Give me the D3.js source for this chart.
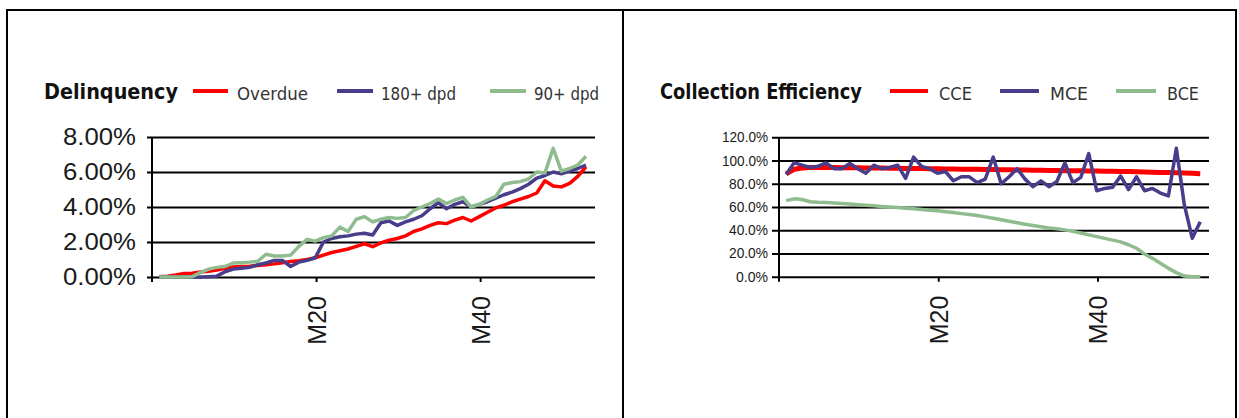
<!DOCTYPE html>
<html>
<head>
<meta charset="utf-8">
<script src="https://cdn.jsdelivr.net/npm/d3@7"></script>
<style>
  body { margin: 0; background: #fff; }
  svg { display: block; }
</style>
</head>
<body>
<div id="graph"></div>
<script>
// months M1..M53
var months = d3.range(1, 54);
var tickMonths = [20, 40];

// Delinquency, %
var overdue = [0.02, 0.05, 0.12, 0.2, 0.22, 0.28, 0.33, 0.4, 0.5, 0.57, 0.6, 0.62, 0.66, 0.7, 0.75, 0.82, 0.88, 0.93, 1.0, 1.1,
  1.25, 1.4, 1.5, 1.6, 1.75, 1.9, 1.73, 1.95, 2.1, 2.2, 2.35, 2.6, 2.75, 2.95, 3.1, 3.05, 3.25, 3.4, 3.2, 3.45,
  3.7, 3.95, 4.1, 4.3, 4.45, 4.6, 4.8, 5.5, 5.2, 5.15, 5.35, 5.75, 6.3];
var dpd180 = [0, 0, 0, 0, 0, 0, 0.02, 0.05, 0.3, 0.45, 0.5, 0.55, 0.7, 0.8, 0.95, 0.95, 0.6, 0.85, 0.95, 1.1,
  2.0, 2.2, 2.3, 2.35, 2.45, 2.5, 2.4, 3.1, 3.2, 2.95, 3.15, 3.3, 3.5, 3.9, 4.25, 3.9, 4.15, 4.3, 4.0, 4.15,
  4.3, 4.5, 4.7, 4.85, 5.05, 5.3, 5.65, 5.8, 6.0, 5.9, 6.05, 6.2, 6.4];
var dpd90 = [0, 0, 0, 0, 0.02, 0.25, 0.45, 0.55, 0.6, 0.8, 0.82, 0.85, 0.9, 1.3, 1.2, 1.2, 1.25, 1.75, 2.15, 2.05,
  2.25, 2.35, 2.85, 2.6, 3.3, 3.45, 3.15, 3.3, 3.4, 3.35, 3.4, 3.8, 4.0, 4.2, 4.45, 4.2, 4.4, 4.55, 4.0, 4.15,
  4.4, 4.6, 5.3, 5.4, 5.45, 5.6, 6.0, 5.95, 7.35, 6.05, 6.2, 6.4, 6.9];

// Collection efficiency, %
var cce = [88.5, 92.5, 93.5, 94, 94, 94, 93.9, 93.8, 93.8, 93.7, 93.6, 93.5, 93.5, 93.4, 93.3, 93.2, 93.2, 93.1, 93, 92.9,
  92.8, 92.7, 92.6, 92.5, 92.4, 92.3, 92.2, 92.1, 92, 91.9, 91.8, 91.7, 91.6, 91.5, 91.4, 91.3, 91.2, 91.1, 91, 90.9,
  90.8, 90.7, 90.6, 90.5, 90.4, 90.2, 90, 89.8, 89.6, 89.4, 89.2, 89, 88.6];
var mce = [88, 98, 96, 94, 95, 98, 93, 93, 97.5, 93, 89, 96, 93, 94, 96, 84.7, 103, 95, 93, 89,
  90.5, 82.6, 86, 86, 81, 84, 103, 80, 86, 93, 84, 77.5, 82.5, 77.5, 82, 98, 81, 85.5, 106, 74,
  76, 77, 86.7, 75, 86, 74, 76, 72, 69.5, 110.5, 62, 33, 47.3];
var bce = [65.5, 67, 66.5, 64.5, 64, 63.8, 63.5, 63, 62.5, 62, 61.5, 61, 60.5, 60, 59.5, 59, 58.5, 57.8, 57.2, 56.8,
  56, 55.2, 54.3, 53.5, 52.6, 51.5, 50.3, 49.1, 47.8, 46.5, 45.2, 44, 43, 42, 41.2, 40.3, 39, 37.6, 36, 34.5,
  33, 31.5, 30, 27.5, 24.5, 19.5, 15.8, 11.5, 7.2, 3.5, 0.5, 0, 0];

var delinqTicks = [0, 2, 4, 6, 8];
var effTicks = [0, 20, 40, 60, 80, 100, 120];

var red = "#FF0000", blue = "#483D8B", green = "#8FBC8F";

var svg = d3.select("#graph").append("svg")
  .attr("width", 1239)
  .attr("height", 418);

// outer frame
svg.append("path")
  .attr("d", "M7,418V10H1236V418M623,10V418")
  .attr("fill", "none")
  .attr("stroke", "#000")
  .attr("stroke-width", 2);

function panel(o) {
  var g = svg.append("g");
  var x = d3.scaleLinear().domain([0, 54]).range([o.x0, o.x1]);
  var y = d3.scaleLinear().domain(o.yDomain).range([o.y0, o.y1]);

  // grid + y labels
  var ya = g.append("g")
    .attr("transform", "translate(" + o.x0 + ",0)")
    .call(d3.axisLeft(y).tickValues(o.yTicks).tickFormat(o.fmt)
      .tickSizeInner(-(o.x1 - o.x0)).tickSizeOuter(0).tickPadding(o.pad));
  ya.select(".domain").remove();
  ya.selectAll("line").attr("x1", -o.tickLen).attr("stroke", "#000").attr("stroke-width", 2);
  ya.selectAll("text")
    .attr("font-family", "Liberation Sans, Arial, sans-serif")
    .attr("font-size", o.yFont)
    .attr("fill", "#1a1a1a")
    .attr("textLength", function(d) { return o.yLen[String(d).length] || null; })
    .attr("lengthAdjust", "spacingAndGlyphs");

  // y axis line
  g.append("line")
    .attr("x1", o.x0).attr("x2", o.x0)
    .attr("y1", o.y1).attr("y2", o.y0 + 5)
    .attr("stroke", "#000").attr("stroke-width", 2);

  // x axis
  var xa = g.append("g")
    .attr("transform", "translate(0," + o.y0 + ")")
    .call(d3.axisBottom(x).tickValues(tickMonths).tickFormat(function(d) { return "M" + d; })
      .tickSize(5).tickSizeOuter(0).tickPadding(0));
  xa.select(".domain").remove();
  xa.selectAll("line").attr("stroke", "#000").attr("stroke-width", 2);
  xa.selectAll("text")
    .attr("transform", "rotate(-90)")
    .attr("text-anchor", "end")
    .attr("x", -19).attr("y", 0).attr("dy", "0.36em")
    .attr("font-family", "Liberation Sans, Arial, sans-serif")
    .attr("font-size", 25)
    .attr("fill", "#1a1a1a");

  var line = d3.line()
    .x(function(d, i) { return x(months[i] - 0.1); })
    .y(function(d) { return y(d); });

  o.series.forEach(function(s) {
    g.append("path")
      .datum(s.values)
      .attr("fill", "none")
      .attr("stroke", s.color)
      .attr("stroke-width", s.width)
      .attr("stroke-linejoin", "round")
      .attr("d", line);
  });

  // title
  g.append("text")
    .attr("x", o.title.x).attr("y", 99)
    .attr("font-family", "DejaVu Sans Condensed, DejaVu Sans, sans-serif")
    .attr("font-weight", "bold")
    .attr("font-size", 21)
    .attr("fill", "#111")
    .attr("textLength", o.title.len)
    .attr("lengthAdjust", "spacingAndGlyphs")
    .text(o.title.text);

  // legend
  o.series.forEach(function(s, i) {
    var L = o.legend[i];
    g.append("line")
      .attr("x1", L.lx).attr("x2", L.lx + L.lw)
      .attr("y1", 91).attr("y2", 91)
      .attr("stroke", s.color).attr("stroke-width", 4);
    g.append("text")
      .attr("x", L.tx).attr("y", 100)
      .attr("font-family", "DejaVu Sans Condensed, DejaVu Sans, sans-serif")
      .attr("font-size", 17)
      .attr("fill", "#333")
      .attr("textLength", L.tw)
      .attr("lengthAdjust", "spacingAndGlyphs")
      .text(s.name);
  });
}

panel({
  x0: 152, x1: 595, y0: 277, y1: 137,
  yDomain: [0, 8], yTicks: delinqTicks,
  fmt: function(d) { return d.toFixed(2) + "%"; },
  pad: 16, tickLen: 5, yFont: 24, yLen: { "1": 73 },
  title: { text: "Delinquency", x: 44, len: 134 },
  series: [
    { name: "Overdue", values: overdue, color: red, width: 3.5 },
    { name: "180+ dpd", values: dpd180, color: blue, width: 3.5 },
    { name: "90+ dpd", values: dpd90, color: green, width: 3.5 }
  ],
  legend: [
    { lx: 193, lw: 35, tx: 237, tw: 71 },
    { lx: 337, lw: 36, tx: 381, tw: 75 },
    { lx: 490, lw: 36, tx: 534, tw: 65 }
  ]
});

panel({
  x0: 779, x1: 1209, y0: 276.7, y1: 137.3,
  yDomain: [0, 120], yTicks: effTicks,
  fmt: function(d) { return d.toFixed(1) + "%"; },
  pad: 11, tickLen: 7, yFont: 14, yLen: { "1": 32, "2": 39, "3": 46 },
  title: { text: "Collection Efficiency", x: 660, len: 202 },
  series: [
    { name: "CCE", values: cce, color: red, width: 5 },
    { name: "MCE", values: mce, color: blue, width: 3.5 },
    { name: "BCE", values: bce, color: green, width: 3.5 }
  ],
  legend: [
    { lx: 890, lw: 38, tx: 939, tw: 33 },
    { lx: 1000, lw: 39, tx: 1050, tw: 38 },
    { lx: 1116, lw: 40, tx: 1167, tw: 32 }
  ]
});
</script>
</body>
</html>
